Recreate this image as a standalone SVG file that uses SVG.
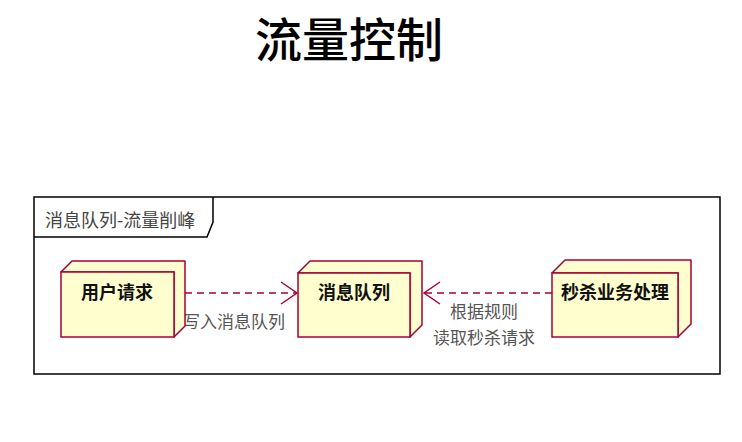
<svg xmlns="http://www.w3.org/2000/svg" width="742" height="442" viewBox="0 0 742 442">
<style>
.node-front{fill:#FEFECE;stroke:#A80036;stroke-width:1.5}
.node-side{fill:#FEFECE;stroke:#A80036;stroke-width:1.5;stroke-linejoin:round}
.nlabel{font-family:"Noto Sans CJK SC","Noto Sans",sans-serif;font-size:18px;font-weight:bold;fill:#111;text-anchor:middle}
.elabel{font-family:"Noto Sans CJK SC","Noto Sans",sans-serif;font-size:17px;fill:#555;text-anchor:middle}
.edge{stroke:#A80036;stroke-width:1.5;fill:none;stroke-dasharray:7,5}
.head{stroke:#A80036;stroke-width:1.5;fill:none}
</style>
<rect width="742" height="442" fill="#fff"/>
<text x="349" y="57" font-family="'Noto Sans CJK SC','Noto Sans',sans-serif" font-size="47" font-weight="500" fill="#000" text-anchor="middle">流量控制</text>
<g id="frame">
<rect x="34" y="197" width="686" height="177" fill="none" stroke="#000" stroke-width="1.5"/>
<path d="M34 237 L207 237 L213 222 L213 197" fill="none" stroke="#000" stroke-width="1.5"/>
<text x="45" y="227" font-family="'Noto Sans CJK SC','Noto Sans',sans-serif" font-size="18" fill="#444">消息队列-流量削峰</text>
</g>
<g id="connectors">
<line class="edge" x1="185" y1="293" x2="296" y2="293"/>
<path class="head" d="M281 282 L297 293 L281 304"/>
<text class="elabel" x="234" y="328">写入消息队列</text>
<line class="edge" x1="552" y1="293" x2="424" y2="293"/>
<path class="head" d="M440 282 L424 293 L440 304"/>
<text class="elabel" x="484" y="318">根据规则</text>
<text class="elabel" x="484" y="344">读取秒杀请求</text>
</g>
<g id="node-user">
<path class="node-side" d="M61 272 L72 261 L185 261 L185 326 L174 337 L174 272 Z"/>
<rect class="node-front" x="61" y="272" width="113" height="65"/>
<text class="nlabel" x="117" y="299">用户请求</text>
</g>
<g id="node-mq">
<path class="node-side" d="M298 273 L310 261 L422 261 L422 325 L410 337 L410 273 Z"/>
<rect class="node-front" x="298" y="273" width="112" height="64"/>
<text class="nlabel" x="354" y="299">消息队列</text>
</g>
<g id="node-seckill">
<path class="node-side" d="M552 273 L565 260 L691 260 L691 324 L678 337 L678 273 Z"/>
<rect class="node-front" x="552" y="273" width="126" height="64"/>
<text class="nlabel" x="615" y="299">秒杀业务处理</text>
</g>
</svg>
